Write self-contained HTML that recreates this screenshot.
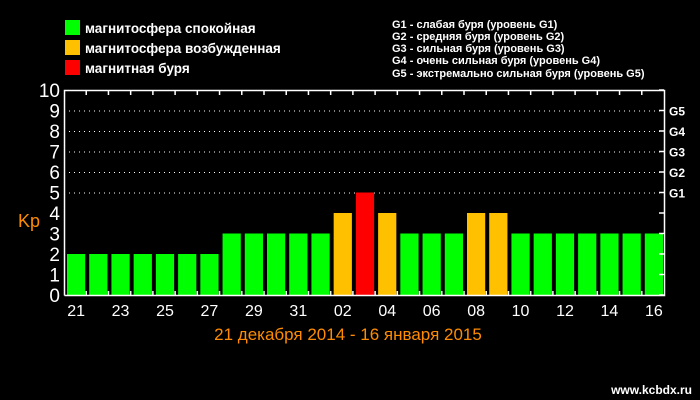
<!DOCTYPE html>
<html><head><meta charset="utf-8"><style>
html,body{margin:0;padding:0;background:#000;}
svg{display:block;font-family:"Liberation Sans","DejaVu Sans",sans-serif;}
</style></head><body>
<svg id="chart" width="700" height="400" viewBox="0 0 700 400" xmlns="http://www.w3.org/2000/svg">
<rect x="0" y="0" width="700" height="400" fill="#000"/>
<g font-size="13.5" font-weight="bold" fill="#fff">
 <g><rect x="65" y="20" width="15" height="15" fill="#00ff00"/><text x="85" y="33">магнитосфера спокойная</text></g>
 <g><rect x="65" y="40" width="15" height="15" fill="#ffc000"/><text x="85" y="53">магнитосфера возбужденная</text></g>
 <g><rect x="65" y="60" width="15" height="15" fill="#ff0000"/><text x="85" y="73">магнитная буря</text></g>
</g>
<g font-size="11" font-weight="bold" fill="#fff">
 <text x="392" y="28">G1 - слабая буря (уровень G1)</text>
 <text x="392" y="40">G2 - средняя буря (уровень G2)</text>
 <text x="392" y="52">G3 - сильная буря (уровень G3)</text>
 <text x="392" y="64">G4 - очень сильная буря (уровень G4)</text>
 <text x="392" y="77">G5 - экстремально сильная буря (уровень G5)</text>
</g>
<g id="grid"></g>
<g id="bars"></g>
<g id="axes"></g>
<text x="18" y="227" font-size="18" fill="#ff8c00">Kp</text>
<text x="348" y="340" text-anchor="middle" font-size="17" fill="#ff8c00">21 декабря 2014 - 16 января 2015</text>
<text x="692" y="394" text-anchor="end" font-size="12" font-weight="bold" fill="#fff">www.kcbdx.ru</text>
</svg>
<script>
const days = ["21","22","23","24","25","26","27","28","29","30","31","01","02","03","04","05","06","07","08","09","10","11","12","13","14","15","16"];
const kpValues = [2,2,2,2,2,2,2,3,3,3,3,3,4,5,4,3,3,3,4,4,3,3,3,3,3,3,3];
const yTicks = [0,1,2,3,4,5,6,7,8,9,10];
const gLevels = ["G1","G2","G3","G4","G5"];
const gValues = [5,6,7,8,9];

const NS="http://www.w3.org/2000/svg";
const L=64,R=664,T=90,B=295;
const slot=(R-L)/days.length;
function xs(i){return L+i*slot;}
function ys(v){return B-(B-T)*v/10;}
function color(v){return v>=5?"#ff0000":(v>=4?"#ffc000":"#00ff00");}
function mk(tag,attrs,parent){const e=document.createElementNS(NS,tag);for(const k in attrs)e.setAttribute(k,attrs[k]);parent.appendChild(e);return e;}
const grid=document.getElementById("grid"),bars=document.getElementById("bars"),axes=document.getElementById("axes");

gValues.forEach((v,i)=>{
 const ln=mk("line",{x1:L+5,x2:R-2,y1:ys(v)+0.5,y2:ys(v)+0.5,stroke:"#fff","stroke-width":1,"stroke-dasharray":"1 4"},grid);
 
 
 const t=mk("text",{x:R+5,y:ys(v)+5,fill:"#fff","font-size":12,"font-weight":"bold"},axes);
 t.textContent=gLevels[i];
 
 
});
[6,7,8,9,10].forEach(v=>{});
[9,8,7,6].forEach(()=>{});

kpValues.forEach((v,i)=>{
 const r=mk("rect",{x:xs(i)+3,y:ys(v),width:slot-4,height:B-ys(v),fill:color(v)},bars);
 
 
});

mk("path",{d:`M${L+0.5},${B+0.5} V${T+0.5} H${R+0.5} V${B+0.5} H${L+0.5}`,fill:"none",stroke:"#fff","stroke-width":1.5},axes);
for(let i=1;i<days.length;i++){
 mk("line",{x1:xs(i),x2:xs(i),y1:T,y2:T+5,stroke:"#fff","stroke-width":1.5},axes);
 mk("line",{x1:xs(i),x2:xs(i),y1:B-4,y2:B,stroke:"#fff","stroke-width":1.5},axes);
}
yTicks.forEach(v=>{
 mk("line",{x1:R-5,x2:R,y1:ys(v),y2:ys(v),stroke:"#fff","stroke-width":1.5},axes);
 const t=mk("text",{x:60,y:ys(v)+7,fill:"#fff","font-size":19,"text-anchor":"end"},axes);
 t.textContent=v;
 
 
});
days.forEach((d,i)=>{
 if(i%2) return;
 const t=mk("text",{x:xs(i)+slot/2+1,y:316,fill:"#fff","font-size":16,"text-anchor":"middle"},axes);
 t.textContent=d;
 
 
});
</script>
</body></html>
